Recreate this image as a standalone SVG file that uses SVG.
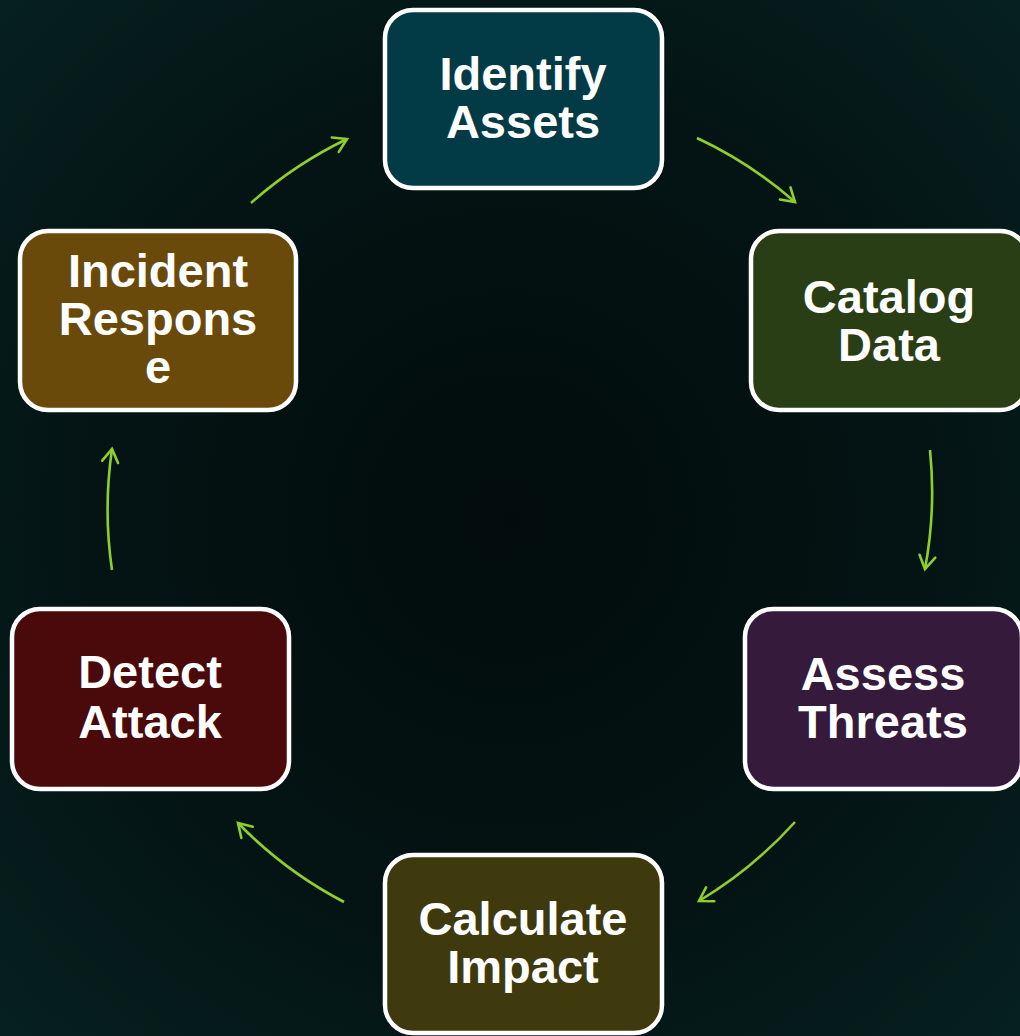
<svg xmlns="http://www.w3.org/2000/svg" width="1020" height="1036" viewBox="0 0 1020 1036">
<defs>
<radialGradient id="bg" cx="50%" cy="50%" r="70%">
<stop offset="0" stop-color="#020c0c"/>
<stop offset="0.6" stop-color="#041414"/>
<stop offset="1" stop-color="#06201f"/>
</radialGradient>
<marker id="ah" markerUnits="userSpaceOnUse" markerWidth="24" markerHeight="24" refX="16" refY="10" orient="auto" viewBox="0 0 24 20">
<path d="M3,2 L16,10 L3,18" fill="none" stroke="#8fcf2c" stroke-width="2.6" stroke-linecap="round" stroke-linejoin="miter"/>
</marker>
<style>
.box{stroke:#ffffff;stroke-width:4.5}
.lbl{font-family:"Liberation Sans",Arial,sans-serif;font-weight:bold;font-size:47px;fill:#ffffff;text-anchor:middle}
.arc{fill:none;stroke:#8fcf2c;stroke-width:2.6;marker-end:url(#ah)}
</style>
</defs>
<rect width="1020" height="1036" fill="url(#bg)"/>
<g id="connectors">
<path class="arc" d="M251,203 A417,417 0 0 1 347,139"/>
<path class="arc" d="M697,138 A417,417 0 0 1 795,202"/>
<path class="arc" d="M930,450 A417,417 0 0 1 925,569"/>
<path class="arc" d="M795,822 A417,417 0 0 1 699,901"/>
<path class="arc" d="M344,902 A417,417 0 0 1 238,823"/>
<path class="arc" d="M112,570 A417,417 0 0 1 112,449"/>
</g>
<g id="identify-assets">
<rect class="box" x="385" y="10" width="277" height="178" rx="28" fill="#023a45"/>
<text class="lbl" x="523" y="90">Identify</text>
<text class="lbl" x="523" y="138">Assets</text>
</g>
<g id="catalog-data">
<rect class="box" x="751" y="231" width="277" height="179" rx="28" fill="#2a3e15"/>
<text class="lbl" x="889" y="313">Catalog</text>
<text class="lbl" x="889" y="361">Data</text>
</g>
<g id="assess-threats">
<rect class="box" x="745" y="609" width="277" height="180" rx="28" fill="#361a3c"/>
<text class="lbl" x="883" y="690">Assess</text>
<text class="lbl" x="883" y="738">Threats</text>
</g>
<g id="calculate-impact">
<rect class="box" x="385" y="855" width="277" height="178" rx="28" fill="#3f3a0e"/>
<text class="lbl" x="523" y="935">Calculate</text>
<text class="lbl" x="523" y="983">Impact</text>
</g>
<g id="detect-attack">
<rect class="box" x="12" y="609" width="277" height="180" rx="28" fill="#4a0a0b"/>
<text class="lbl" x="150" y="688">Detect</text>
<text class="lbl" x="150" y="738">Attack</text>
</g>
<g id="incident-response">
<rect class="box" x="20" y="231" width="276" height="179" rx="28" fill="#6a4a0b"/>
<text class="lbl" x="158" y="287">Incident</text>
<text class="lbl" x="158" y="335">Respons</text>
<text class="lbl" x="158" y="383">e</text>
</g>
</svg>
